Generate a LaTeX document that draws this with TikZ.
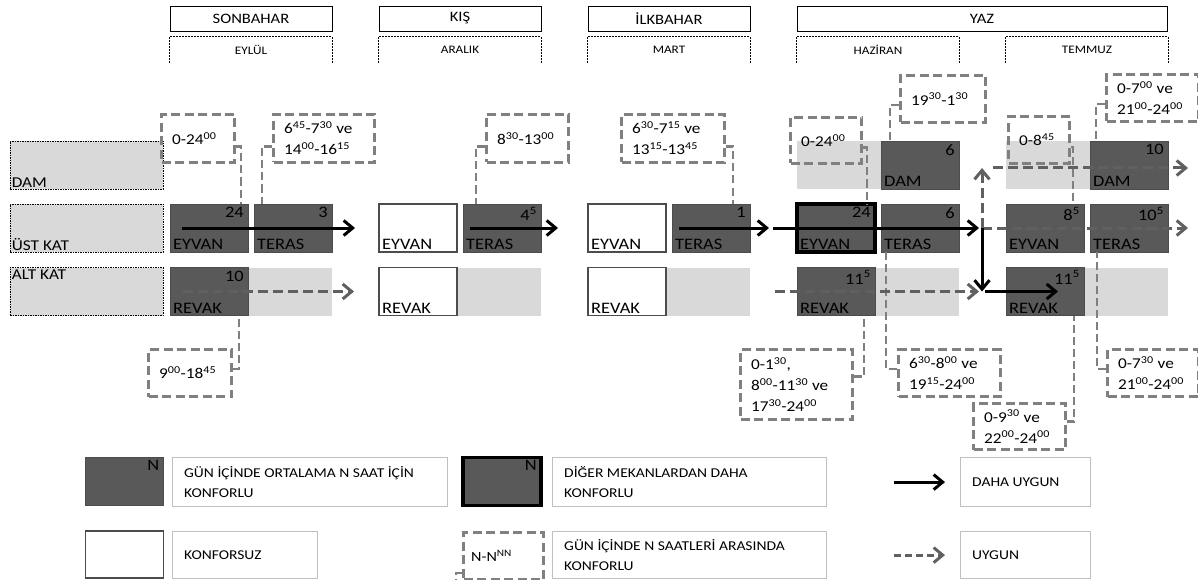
\documentclass[tikz,border=0pt]{standalone}
\usepackage{fontspec}
\setmainfont{Carlito}[FakeStretch=1.15]
\usepackage{xcolor}
\usepackage{tikz}
\usetikzlibrary{arrows.meta}

\definecolor{cellgray}{RGB}{89,89,89}
\definecolor{bandgray}{RGB}{217,217,217}
\definecolor{linegray}{RGB}{128,128,128}
\definecolor{arrowgray}{RGB}{96,96,96}
\definecolor{framegray}{RGB}{191,191,191}

\newcommand{\saat}[2]{#1\textsuperscript{#2}}

\begin{document}
\begin{tikzpicture}[x=1pt, y=-1pt,
    cell/.style={minimum width=78pt, minimum height=48pt, inner sep=0pt, outer sep=0pt},
    dark/.style={cell, fill=cellgray, draw=black!70, line width=0.9pt},
    boldcell/.style={cell, fill=cellgray, draw=black, line width=3.5pt},
    whitecell/.style={cell, fill=white, draw=black!70, line width=1.2pt},
    band/.style={minimum width=162pt, minimum height=48pt, inner sep=0pt, outer sep=0pt, fill=bandgray},
    num/.style={anchor=north east, inner xsep=4pt, inner ysep=3pt, font=\fontsize{16}{18}\selectfont},
    nme/.style={anchor=south west, inner xsep=3pt, inner ysep=2pt, font=\fontsize{16}{18}\selectfont},
    rowlbl/.style={minimum width=153pt, minimum height=48pt, inner sep=0pt, fill=bandgray, draw=black, line width=0.7pt, dash pattern=on 1.5pt off 1pt},
    toplbl/.style={anchor=north west, inner xsep=2pt, inner ysep=3pt, font=\fontsize{15}{18}\selectfont},
    lowlbl/.style={anchor=south west, inner xsep=2pt, inner ysep=2pt, font=\fontsize{15}{18}\selectfont},
    season/.style={draw=black, line width=0.9pt, minimum height=25pt, inner sep=0pt, font=\fontsize{14.4}{16}\selectfont},
    monthbox/.style={minimum height=26pt, inner sep=0pt, font=\fontsize{11.5}{14}\selectfont},
    monthline/.style={draw=black, line width=0.8pt, dash pattern=on 2pt off 1pt},
    timebox/.style 2 args={draw=linegray, line width=3pt, dash pattern=on 9pt off 4.5pt, anchor=north west, minimum width=#1, minimum height=#2, inner sep=0pt},
    ttext/.style={anchor=west, align=left, inner xsep=12pt, inner ysep=0pt, font=\fontsize{15}{21}\selectfont},
    tlink/.style={draw=linegray, line width=2.6pt, dash pattern=on 8pt off 4pt},
    better/.style={draw=black, line width=3pt, -{Straight Barb[length=9pt,width=15pt]}},
    good/.style={draw=arrowgray, line width=3pt, dash pattern=on 10pt off 5pt, -{Straight Barb[length=9pt,width=15pt]}},
    legbox/.style 2 args={draw=framegray, line width=1.2pt, anchor=north west, minimum width=#1, minimum height=#2, inner sep=0pt},
    legtext/.style={anchor=west, align=left, inner xsep=12pt, inner ysep=0pt, font=\fontsize{13.5}{20}\selectfont}]

  \useasboundingbox (0,0) rectangle (1198,580);

  % seasons and months
  \node[season, minimum width=162pt] (sSon) at (251,18.5) {SONBAHAR};
  \node[season, minimum width=162pt] (sKis) at (460,18.5) {KIŞ};
  \node[season, minimum width=162pt] (sIlk) at (669,18.5) {İLKBAHAR};
  \node[season, minimum width=370pt] (sYaz) at (982,18.5) {YAZ};
  \node[monthbox, minimum width=162pt] (mEylul) at (251,50) {EYLÜL};
  \node[monthbox, minimum width=162pt] (mAralik) at (460,50) {ARALIK};
  \node[monthbox, minimum width=162pt] (mMart) at (669,50) {MART};
  \node[monthbox, minimum width=162pt] (mHaziran) at (878,50) {HAZİRAN};
  \node[monthbox, minimum width=162pt] (mTemmuz) at (1087,50) {TEMMUZ};
  \foreach \m in {mEylul,mAralik,mMart,mHaziran,mTemmuz}
    \draw[monthline] (\m.south west) |- (\m.north east) -- (\m.south east);

  % floors
  \node[rowlbl, label={[lowlbl]south west:DAM}] (rDam) at (86.5,165) {};
  \node[rowlbl, label={[lowlbl]south west:ÜST KAT}] (rUst) at (86.5,228) {};
  \node[rowlbl, label={[toplbl]north west:ALT KAT}] (rAlt) at (86.5,291.5) {};

  % light bands
  \node[band] (sAlt) at (251,291.5) {};
  \node[band] (kAlt) at (460,291.5) {};
  \node[band] (mAlt) at (669,291.5) {};
  \node[band] (hDamB) at (878,165) {};
  \node[band] (hAlt) at (878,291.5) {};
  \node[band] (tDamB) at (1087,165) {};
  \node[band] (tAlt) at (1087,291.5) {};

  % eylul
  \node[dark, label={[num]north east:24}, label={[nme]south west:EYVAN}] (sEyvan) at (209,228) {};
  \node[dark, label={[num]north east:3}, label={[nme]south west:TERAS}] (sTeras) at (293,228) {};
  \node[dark, label={[num]north east:10}, label={[nme]south west:REVAK}] (sRevak) at (209,291.5) {};
  % aralik
  \node[whitecell, label={[nme]south west:EYVAN}] (kEyvan) at (418,228) {};
  \node[dark, label={[num]north east:\saat{4}{5}}, label={[nme]south west:TERAS}] (kTeras) at (502,228) {};
  \node[whitecell, label={[nme]south west:REVAK}] (kRevak) at (418,291.5) {};
  % mart
  \node[whitecell, label={[nme]south west:EYVAN}] (mEyvan) at (627,228) {};
  \node[dark, label={[num]north east:1}, label={[nme]south west:TERAS}] (mTeras) at (711,228) {};
  \node[whitecell, label={[nme]south west:REVAK}] (mRevak) at (627,291.5) {};
  % haziran
  \node[dark, label={[num]north east:6}, label={[nme]south west:DAM}] (hDam) at (920,165) {};
  \node[boldcell, label={[num]north east:24}, label={[nme]south west:EYVAN}] (hEyvan) at (836,228) {};
  \node[dark, label={[num]north east:6}, label={[nme]south west:TERAS}] (hTeras) at (920,228) {};
  \node[dark, label={[num]north east:\saat{11}{5}}, label={[nme]south west:REVAK}] (hRevak) at (836,291.5) {};
  % temmuz
  \node[dark, label={[num]north east:10}, label={[nme]south west:DAM}] (tDam) at (1129,165) {};
  \node[dark, label={[num]north east:\saat{8}{5}}, label={[nme]south west:EYVAN}] (tEyvan) at (1045,228) {};
  \node[dark, label={[num]north east:\saat{10}{5}}, label={[nme]south west:TERAS}] (tTeras) at (1129,228) {};
  \node[dark, label={[num]north east:\saat{11}{5}}, label={[nme]south west:REVAK}] (tRevak) at (1045,291.5) {};

  % comfortable hours
  \node[timebox={73}{48}, label={[ttext]west:0-\saat{24}{00}}] (sEyvanT) at (160,113) {};
  \node[timebox={101}{48}, label={[ttext]west:\saat{6}{45}-\saat{7}{30} ve\\\saat{14}{00}-\saat{16}{15}}] (sTerasT) at (272,113) {};
  \node[timebox={83}{47}, label={[ttext]west:\saat{9}{00}-\saat{18}{45}}] (sRevakT) at (147,348) {};
  \node[timebox={82}{48}, label={[ttext]west:\saat{8}{30}-\saat{13}{00}}] (kTerasT) at (485,113) {};
  \node[timebox={103}{48}, label={[ttext]west:\saat{6}{30}-\saat{7}{15} ve\\\saat{13}{15}-\saat{13}{45}}] (mTerasT) at (620,113) {};
  \node[timebox={71}{46}, label={[ttext]west:0-\saat{24}{00}}] (hEyvanT) at (789,116) {};
  \node[timebox={85}{47}, label={[ttext]west:\saat{19}{30}-\saat{1}{30}}] (hDamT) at (899,74) {};
  \node[timebox={61}{47}, label={[ttext]west:0-\saat{8}{45}}] (tEyvanT) at (1007,115) {};
  \node[timebox={92}{47}, label={[ttext]west:0-\saat{7}{00} ve\\\saat{21}{00}-\saat{24}{00}}] (tDamT) at (1105,73) {};
  \node[timebox={112}{70}, label={[ttext]west:0-\saat{1}{30},\\\saat{8}{00}-\saat{11}{30} ve\\\saat{17}{30}-\saat{24}{00}}] (hRevakT) at (739,348) {};
  \node[timebox={102}{47}, label={[ttext]west:\saat{6}{30}-\saat{8}{00} ve\\\saat{19}{15}-\saat{24}{00}}] (hTerasT) at (897,348) {};
  \node[timebox={92}{46}, label={[ttext]west:0-\saat{9}{30} ve\\\saat{22}{00}-\saat{24}{00}}] (tRevakT) at (972,402) {};
  \node[timebox={91}{47}, label={[ttext]west:0-\saat{7}{30} ve\\\saat{21}{00}-\saat{24}{00}}] (tTerasT) at (1106,348) {};

  \draw[tlink] ([yshift=-8pt]sEyvanT.east) -| ([xshift=32pt]sEyvan.north);
  \draw[tlink] ([yshift=-8pt]sTerasT.west) -| ([xshift=-31pt]sTeras.north);
  \draw[tlink] ([yshift=4pt]sRevakT.east) -| ([xshift=30pt]sRevak.south);
  \draw[tlink] ([yshift=-8pt]kTerasT.west) -| ([xshift=-26pt]kTeras.north);
  \draw[tlink] ([yshift=-8pt]mTerasT.east) -| ([xshift=22pt]mTeras.north);
  \draw[tlink] ([yshift=-7pt]hEyvanT.east) -| ([xshift=31pt]hEyvan.north);
  \draw[tlink] ([yshift=-6pt]hDamT.west) -| ([xshift=-30pt]hDam.north);
  \draw[tlink] ([yshift=-7pt]tEyvanT.east) -| ([xshift=28pt]tEyvan.north);
  \draw[tlink] ([yshift=-6pt]tDamT.west) -| ([xshift=-33pt]tDam.north);
  \draw[tlink] ([yshift=8pt]hRevakT.east) -| ([xshift=28pt]hRevak.south);
  \draw[tlink] ([yshift=4pt]hTerasT.west) -| ([xshift=-34pt]hTeras.south);
  \draw[tlink] ([yshift=5pt]tRevakT.east) -| ([xshift=29pt]tRevak.south);
  \draw[tlink] ([yshift=4pt]tTerasT.west) -| ([xshift=-32pt]tTeras.south);

  % arrows
  \draw[better] ([xshift=12pt]sEyvan.west) -- ([xshift=23pt]sTeras.east);
  \draw[good] ([xshift=13pt]sRevak.west) -- ([xshift=22pt]sAlt.east);
  \draw[better] ([xshift=7pt]kTeras.west) -- ([xshift=17pt]kTeras.east);
  \draw[better] ([xshift=7pt]mTeras.west) -- ([xshift=19pt]mTeras.east);
  \coordinate (junc) at ([xshift=23pt]hTeras.east);
  \draw[better] ([xshift=-24pt]hEyvan.west) -- ([xshift=-3pt]junc);
  \draw[good] ([xshift=-22pt]hRevak.west) -- ([xshift=-3pt]junc |- hRevak);
  \draw[good] (junc) -- ([yshift=-3pt]junc |- hDam);
  \draw[good] ([xshift=11pt,yshift=-3pt]junc |- hDam) -- ([xshift=20pt,yshift=-3pt]tDam.east);
  \draw[good] (junc) -- ([xshift=20pt]tTeras.east);
  \draw[better] (junc) -- (junc |- hRevak);
  \draw[better] ([xshift=3pt]junc |- hRevak) -- ([xshift=-26pt]tRevak.east);

  % legend
  \node[dark, label={[num]north east:N}] (lgDark) at (124.5,481.5) {};
  \node[legbox={275}{49}, label={[legtext]west:GÜN İÇİNDE ORTALAMA N SAAT İÇİN\\KONFORLU}] (lgDarkT) at (172,457) {};
  \node[whitecell, minimum height=47pt] (lgWhite) at (124.5,554.5) {};
  \node[legbox={145}{47}, label={[legtext]west:KONFORSUZ}] (lgWhiteT) at (172,531) {};
  \node[boldcell, label={[num]north east:N}] (lgBold) at (502,481.5) {};
  \node[legbox={274}{49}, label={[legtext]west:DİĞER MEKANLARDAN DAHA\\KONFORLU}] (lgBoldT) at (552,457) {};
  \node[timebox={80}{47}, label={[ttext, inner xsep=9pt, font=\fontsize{14}{18}\selectfont]west:N-N\textsuperscript{NN}}] (lgCall) at (462,531) {};
  \coordinate (lgEnd) at (456,584);
  \draw[tlink] ([yshift=-17pt]lgCall.west) -| (lgEnd);
  \node[legbox={274}{47}, label={[legtext]west:GÜN İÇİNDE N SAATLERİ ARASINDA\\KONFORLU}] (lgCallT) at (552,531) {};
  \node[legbox={130}{49}, label={[legtext]west:DAHA UYGUN}] (lgBetT) at (960,457) {};
  \node[legbox={130}{47}, label={[legtext]west:UYGUN}] (lgGoodT) at (960,531) {};
  \draw[better] ([xshift=-66pt]lgBetT.west) -- ([xshift=-15pt]lgBetT.west);
  \draw[good, dash pattern=on 7pt off 4pt] ([xshift=-66pt]lgGoodT.west) -- ([xshift=-15pt]lgGoodT.west);
\end{tikzpicture}
\end{document}
